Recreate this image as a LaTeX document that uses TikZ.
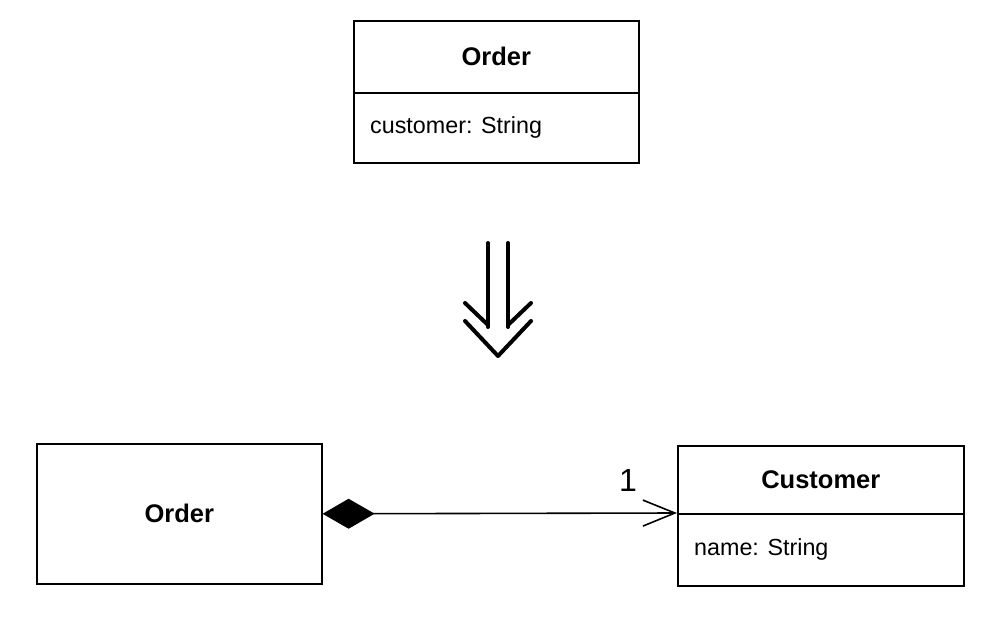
\documentclass[tikz,border=0pt]{standalone}
\usepackage{fontspec}
\setmainfont{Liberation Sans}
\usetikzlibrary{arrows.meta}
\begin{document}
\begin{tikzpicture}[x=1pt,y=-1pt,
  box/.style={draw, line width=1.6pt, inner sep=0pt, anchor=north west},
  clsname/.style={font=\bfseries\fontsize{25.5}{30}\selectfont},
  attrtext/.style={anchor=west, inner sep=0pt, font=\fontsize{23.3}{27}\selectfont},
  assoc/.style={line width=1.6pt, {Diamond[length=52pt,width=30pt,fill=black]}-{Straight Barb[length=32pt,width=26pt,line width=1.6pt]}},
  refarrow/.style={line width=4pt, line cap=round, line join=round}]
\useasboundingbox (0,0) rectangle (993,618);
% top class
\node[box, clsname, minimum width=285pt, minimum height=72pt] (topname) at (353,20) {Order};
\node[box, minimum width=285pt, minimum height=70pt] (topattr) at (353,92) {};
\node[attrtext] (topattrtxt) at ([xshift=17pt]topattr.west) {customer: String};
% refactoring arrow
\draw[refarrow] (488,243) -- (488,327);
\draw[refarrow] (508,243) -- (508,327);
\draw[refarrow] (465,303) -- (488,325);
\draw[refarrow] (531,303) -- (508,325);
\draw[refarrow] (465,321) -- (498,356) -- (531,321);
% bottom classes
\node[box, clsname, minimum width=285pt, minimum height=140pt] (order) at (36,443) {Order};
\node[box, clsname, minimum width=286pt, minimum height=68pt] (custname) at (677,445) {Customer};
\node[box, minimum width=286pt, minimum height=72pt] (custattr) at (677,513) {};
\node[attrtext] (custattrtxt) at ([xshift=17pt]custattr.west) {name: String};
% association
\draw[assoc] (order.east) -- (custattr.north west);
\node[font=\fontsize{32}{36}\selectfont, inner sep=0pt] (mult) at (628,480) {1};
\end{tikzpicture}
\end{document}
